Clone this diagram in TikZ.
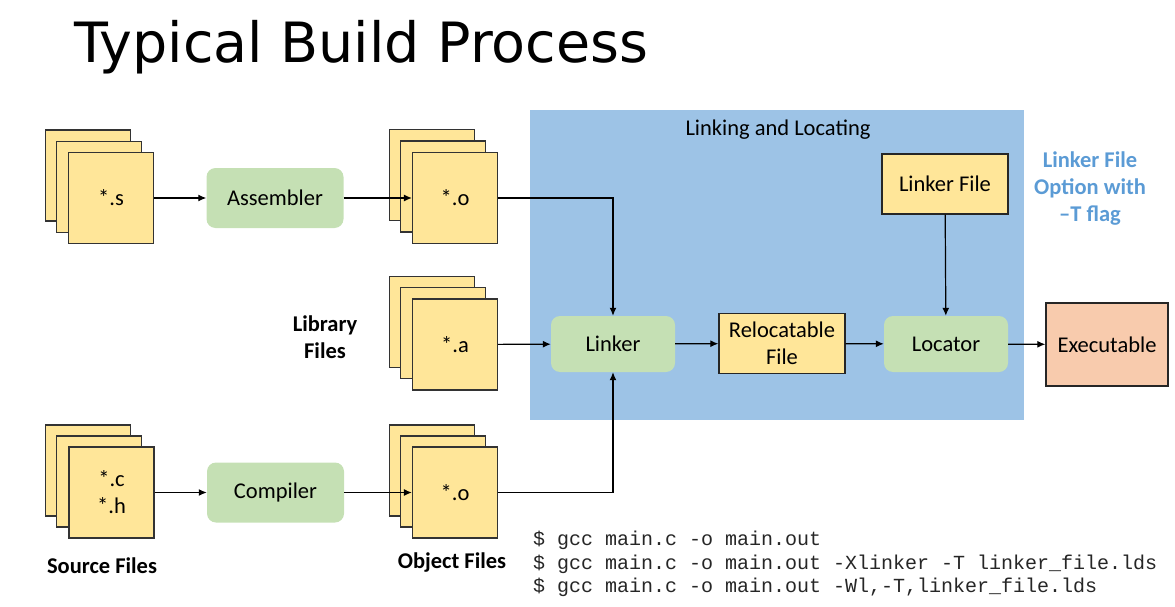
\documentclass[tikz,border=0pt]{standalone}
\usepackage{fontspec}
\setmainfont{Carlito}
\newfontfamily\titlefont{DejaVu Sans}
\setmonofont{Liberation Mono}
\usetikzlibrary{arrows.meta}
\definecolor{fileY}{HTML}{FFE699}
\definecolor{procG}{HTML}{C5E0B4}
\definecolor{zoneB}{HTML}{9DC3E6}
\definecolor{exeS}{HTML}{F8CBAD}
\definecolor{noteB}{HTML}{5B9BD5}
\newcommand\lblfont{\fontsize{22.5}{27}\selectfont}
\tikzset{
  filebox/.style={draw=black!80, line width=1.3pt, fill=fileY, minimum width=85pt, minimum height=91pt, inner sep=0pt, align=center, font=\lblfont},
  procbox/.style={fill=procG, rounded corners=9pt, minimum width=137pt, minimum height=60pt, inner sep=0pt, font=\lblfont},
  smallproc/.style={fill=procG, rounded corners=9pt, minimum width=124pt, minimum height=56pt, inner sep=0pt, font=\lblfont},
  plainbox/.style={draw=black!85, line width=1.3pt, fill=fileY, minimum width=126pt, minimum height=60pt, inner sep=0pt, align=center, font=\lblfont},
  conn/.style={-{Latex[length=8pt,width=7pt]}, line width=1.2pt},
  tag/.style={font=\lblfont\bfseries, align=center, inner sep=0pt},
  codeline/.style={font=\ttfamily\fontsize{20}{23.5}\selectfont, anchor=base west, inner sep=0pt, text=black!85},
}
\begin{document}
\begin{tikzpicture}[x=1pt,y=-1pt]
\useasboundingbox (0,0) rectangle (1175,607);
% title
\node[anchor=base west, inner sep=0pt, font=\titlefont\fontsize{55.5}{60}\selectfont] (title) at (74,63) {Typical Build Process};
% linking zone
\node[fill=zoneB, minimum width=494pt, minimum height=310pt, inner sep=0pt] (zone) at (777,265) {};
\node[font=\lblfont, inner sep=0pt] (zonelbl) at (778,130) {Linking and Locating};
% source *.s
\node[filebox] (s1) at (88,175.5) {};
\node[filebox] (s2) at (99,187) {};
\node[filebox] (s3) at (111,198) {*.s};
% assembler
\node[procbox] (asm) at (275,198) {Assembler};
% object top
\node[filebox] (o1) at (432,175) {};
\node[filebox] (o2) at (443,186.5) {};
\node[filebox] (o3) at (455,198) {*.o};
% library
\node[filebox] (a1) at (432,322) {};
\node[filebox] (a2) at (443,333) {};
\node[filebox] (a3) at (455,344.5) {*.a};
\node[tag] (libl) at (325,337) {Library\\Files};
% source c h
\node[filebox] (c1) at (88,470.5) {};
\node[filebox] (c2) at (99,481.5) {};
\node[filebox] (c3) at (111.5,492.5) {*.c\\*.h};
\node[tag] (srcl) at (102,566) {Source Files};
% compiler
\node[procbox] (cmp) at (275.5,492.5) {Compiler};
% object bottom
\node[filebox] (p1) at (432,470.5) {};
\node[filebox] (p2) at (443,481.5) {};
\node[filebox] (p3) at (455,492.5) {*.o};
\node[tag] (objl) at (452,563) {Object Files};
% linking chain
\node[smallproc] (lnk) at (613,344) {Linker};
\node[plainbox] (rel) at (782,343.5) {Relocatable\\File};
\node[smallproc] (loc) at (946,344) {Locator};
\node[plainbox] (lfile) at (945,184) {Linker File};
\node[draw=black!85, line width=1.3pt, fill=exeS, minimum width=122pt, minimum height=83pt, inner sep=0pt, font=\lblfont] (exe) at (1107,344.5) {Executable};
\node[tag, text=noteB] (note) at (1090,189) {Linker File\\Option with\\–T flag};
% connectors
\draw[conn] (s3) -- (asm);
\draw[conn] (asm) -- (o3);
\draw[conn] (c3) -- (cmp);
\draw[conn] (cmp) -- (p3);
\draw[conn] (o3.east) -| (lnk.north);
\draw[conn] (p3.east) -| (lnk.south);
\draw[conn] (a3) -- (lnk);
\draw[conn] (lnk) -- (rel);
\draw[conn] (rel) -- (loc);
\draw[conn] (loc) -- (exe);
\draw[conn] (lfile) -- (loc);
% commands
\node[codeline] (cmd1) at (533,545) {\$ gcc main.c -o main.out};
\node[codeline] (cmd2) at (533,569) {\$ gcc main.c -o main.out -Xlinker -T linker\_file.lds};
\node[codeline] (cmd3) at (533,592) {\$ gcc main.c -o main.out -Wl,-T,linker\_file.lds};
\end{tikzpicture}
\end{document}
